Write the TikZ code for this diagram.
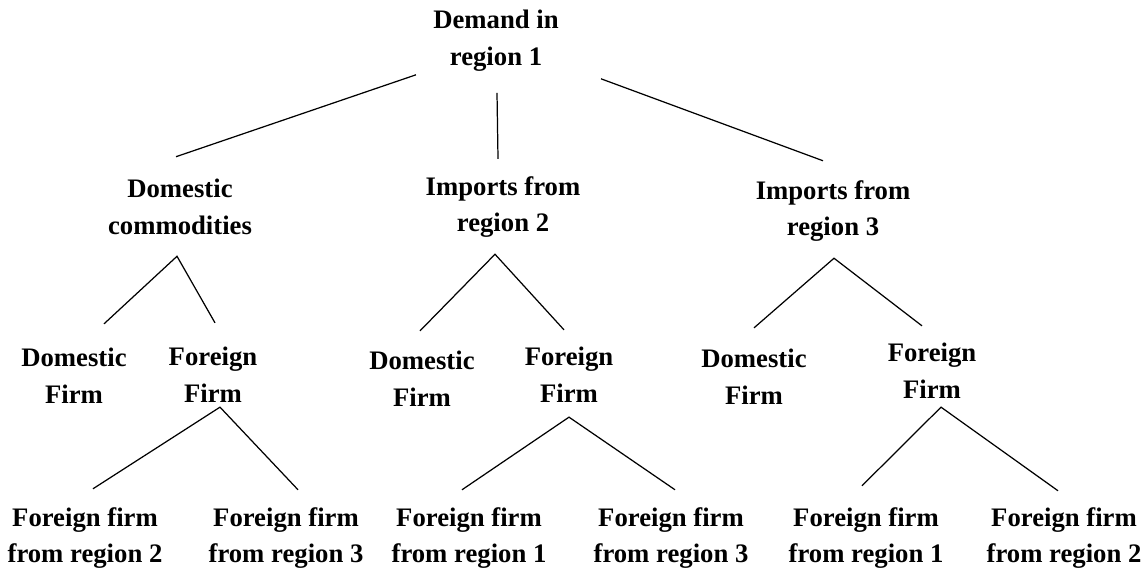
\documentclass[tikz,border=0pt]{standalone}
\usepackage{fontspec}
\setmainfont{Liberation Serif}
\usetikzlibrary{positioning}

\begin{document}
\begin{tikzpicture}[x=0.02cm, y=-0.02cm, line width=0.7pt,
  box/.style={align=center, inner sep=0pt, font=\fontsize{15.2}{20.8}\selectfont\bfseries}]
  \useasboundingbox (0,0) rectangle (1148,571);
  % top level
  \node[box] (root) at (496,40.7) {Demand in\\region 1};
  % second level
  \node[box] (dom) at (180,207) {Domestic\\commodities};
  \node[box] (imptwo) at (503,207) {Imports from\\region 2};
  \node[box] (impthree) at (833,211) {Imports from\\region 3};
  % firms
  \node[box] (domd) at (74,376) {Domestic\\Firm};
  \node[box] (domf) at (213,375) {Foreign\\Firm};
  \node[box] (imptwod) at (422,379) {Domestic\\Firm};
  \node[box] (imptwof) at (569,375) {Foreign\\Firm};
  \node[box] (impthreed) at (754,377) {Domestic\\Firm};
  \node[box] (impthreef) at (932,371) {Foreign\\Firm};
  % foreign firms by origin
  \foreach \n/\x/\r in {fa/85/2, fb/286/3, fc/469/1, fd/671/3, fe/866/1, ff/1064/2}
    \node[box] (\n) at (\x,538) {Foreign firm\\from region \r};
  % branches from the top
  \draw ([shift={(-80,3)}]root.south) -- ([shift={(-4,-22)}]dom.north);
  \draw ([shift={(1,21)}]root.south) -- ([shift={(-5,-17)}]imptwo.north);
  \draw ([shift={(105,7)}]root.south) -- ([shift={(-10,-19)}]impthree.north);
  % domestic and foreign firms
  \draw ([shift={(30,-24)}]domd.north) -- ([shift={(-3,21)}]dom.south) -- ([shift={(2,-24)}]domf.north);
  \draw ([shift={(-2,-20)}]imptwod.north) -- ([shift={(-8,16)}]imptwo.south) -- ([shift={(-5,-17)}]imptwof.north);
  \draw ([shift={(0,-21)}]impthreed.north) -- ([shift={(1,16)}]impthree.south) -- ([shift={(-10,-17)}]impthreef.north);
  % origin of the foreign firm
  \draw ([shift={(8,-18)}]fa.north) -- ([shift={(7,4)}]domf.south) -- ([shift={(12,-17)}]fb.north);
  \draw ([shift={(-7,-17)}]fc.north) -- ([shift={(0,14)}]imptwof.south) -- ([shift={(4,-17)}]fd.north);
  \draw ([shift={(-4,-21)}]fe.north) -- ([shift={(9,8)}]impthreef.south) -- ([shift={(-6,-16)}]ff.north);
\end{tikzpicture}
\end{document}
